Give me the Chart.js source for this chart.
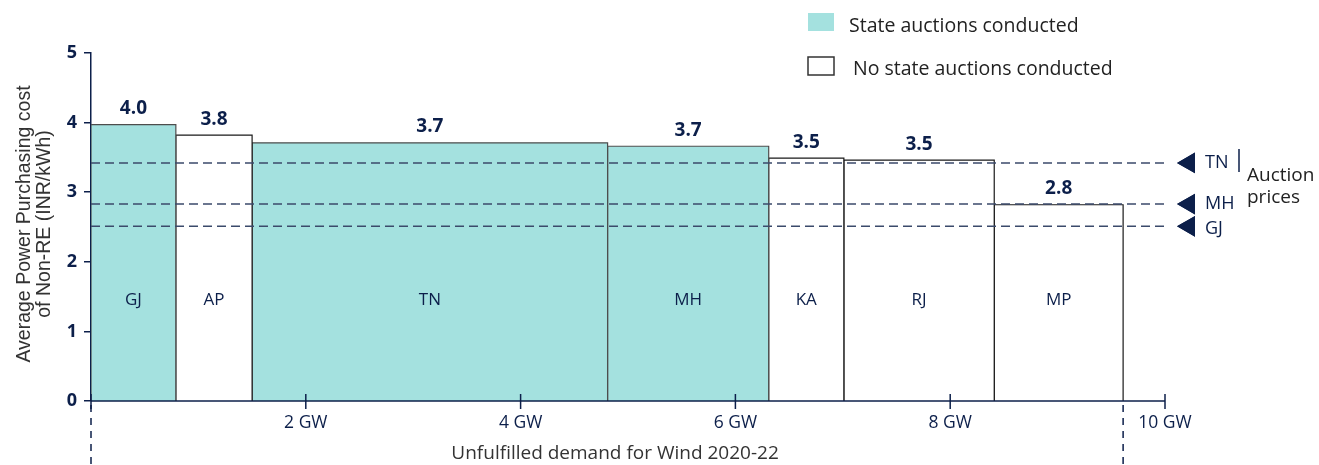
<!DOCTYPE html>
<html>
<head>
<meta charset="utf-8">
<script src="https://cdn.jsdelivr.net/npm/chart.js@4.4.0/dist/chart.umd.min.js"></script>
<style>
html, body { margin: 0; padding: 0; background: #fff; }
#wrap { position: relative; width: 1319px; height: 465px; }
</style>
</head>
<body>
<div id="wrap"><canvas id="windChart"></canvas></div>
<script>
var states = ["GJ", "AP", "TN", "MH", "KA", "RJ", "MP"];
var demandGW = [0.79, 0.71, 3.31, 1.50, 0.70, 1.40, 1.20]; // bar widths
var purchaseCost = [3.97, 3.82, 3.71, 3.66, 3.49, 3.46, 2.82]; // INR/kWh
var stateAuctions = [true, false, true, true, false, false, false];
var auctionStates = ["TN", "MH", "GJ"];
var auctionPrices = [3.42, 2.83, 2.51];
var xTickValues = [0, 2, 4, 6, 8, 10];

var navy = "#0c1f4a";
var teal = "#a4e1df";
var dashColor = "#3b4a6b";
var fontFamily = "'Open Sans', sans-serif";
var xMax = 10;

// one closed step shape per state, filled down to zero
var datasets = [];
var edges = [0];
var start = 0;
states.forEach(function (s, i) {
  var end = start + demandGW[i];
  datasets.push({
    type: "line",
    label: s,
    order: 2,
    data: [
      { x: start, y: 0 },
      { x: start, y: purchaseCost[i] },
      { x: end, y: purchaseCost[i] },
      { x: end, y: 0 }
    ],
    fill: "origin",
    backgroundColor: stateAuctions[i] ? teal : "#ffffff",
    borderColor: stateAuctions[i] ? "#4d4d4d" : "#1a1a1a",
    borderWidth: 1.2,
    pointRadius: 0,
    tension: 0
  });
  start = end;
  edges.push(end);
});
var totalGW = start;

// auction price reference lines
auctionPrices.forEach(function (p, i) {
  datasets.push({
    type: "line",
    label: auctionStates[i] + " auction",
    order: 0,
    clip: false,
    data: [{ x: 0, y: p }, { x: xMax + 0.03, y: p }],
    borderColor: dashColor,
    borderWidth: 1.6,
    borderDash: [9, 5],
    pointRadius: 0,
    fill: false
  });
});

var annotations = {
  id: "annotations",
  afterDatasetsDraw: function (chart) {
    var ctx = chart.ctx;
    var xs = chart.scales.x, ys = chart.scales.y;
    var area = chart.chartArea;
    var right = xs.getPixelForValue(xMax);
    ctx.save();

    // x axis line over the bars, with tick marks crossing it
    ctx.strokeStyle = navy;
    ctx.lineWidth = 1.5;
    ctx.beginPath();
    ctx.moveTo(area.left, area.bottom);
    ctx.lineTo(right, area.bottom);
    ctx.stroke();
    xTickValues.forEach(function (v) {
      var px = xs.getPixelForValue(v);
      ctx.beginPath();
      ctx.moveTo(px, area.bottom - 7);
      ctx.lineTo(px, area.bottom + 8);
      ctx.stroke();
    });

    // dashed range markers under the axis
    ctx.setLineDash([7, 6]);
    [0, totalGW].forEach(function (v) {
      var px = xs.getPixelForValue(v);
      ctx.beginPath();
      ctx.moveTo(px, area.bottom + 4);
      ctx.lineTo(px, chart.height);
      ctx.stroke();
    });
    ctx.setLineDash([]);

    // value labels and state names
    ctx.textAlign = "center";
    ctx.textBaseline = "middle";
    states.forEach(function (s, i) {
      var mid = xs.getPixelForValue((edges[i] + edges[i + 1]) / 2);
      ctx.fillStyle = navy;
      ctx.font = "bold 19px " + fontFamily;
      ctx.fillText(purchaseCost[i].toFixed(1), mid, ys.getPixelForValue(purchaseCost[i]) - 16);
      ctx.font = "17px " + fontFamily;
      ctx.fillText(s, mid, ys.getPixelForValue(1.45));
    });

    // auction price markers and labels
    ctx.textAlign = "left";
    ctx.font = "18px " + fontFamily;
    auctionStates.forEach(function (s, i) {
      var py = ys.getPixelForValue(auctionPrices[i]);
      Chart.helpers.drawPoint(ctx, {
        pointStyle: "triangle", rotation: -90, radius: 12, borderWidth: 0
      }, right + 24, py);
      ctx.fillStyle = navy;
      ctx.fill();
      ctx.fillText(s, right + 40, py + (s === "GJ" ? 3 : 0));
    });
    var tnY = ys.getPixelForValue(auctionPrices[0]);
    ctx.beginPath();
    ctx.moveTo(right + 74, tnY - 14);
    ctx.lineTo(right + 74, tnY + 9);
    ctx.stroke();
    ctx.fillStyle = "#222";
    ctx.font = "19px " + fontFamily;
    ctx.fillText("Auction", right + 82, tnY + 13);
    ctx.fillText("prices", right + 82, tnY + 35);

    // legend
    ctx.fillStyle = teal;
    ctx.fillRect(808, 13, 26, 18);
    ctx.fillStyle = "#fff";
    ctx.fillRect(808, 57, 26, 18);
    ctx.strokeStyle = "#333";
    ctx.lineWidth = 1.5;
    ctx.strokeRect(808, 57, 26, 18);
    ctx.fillStyle = "#222";
    ctx.font = "19.5px " + fontFamily;
    ctx.fillText("State auctions conducted", 849, 26);
    ctx.fillText("No state auctions conducted", 853, 69);

    // axis titles
    ctx.textAlign = "center";
    ctx.fillStyle = "#333";
    ctx.font = "19px " + fontFamily;
    ctx.fillText("Unfulfilled demand for Wind 2020-22", xs.getPixelForValue(totalGW / 2) + 8, 454);
    ctx.translate(25, (area.top + area.bottom) / 2 - 3);
    ctx.rotate(-Math.PI / 2);
    ctx.font = "19.5px 'Liberation Sans', Arial, sans-serif";
    ctx.fillText("Average Power Purchasing cost", 0, 0);
    ctx.fillText("of Non-RE (INR/kWh)", 0, 20);
    ctx.restore();
  }
};

new Chart("windChart", {
  type: "line",
  data: { datasets: datasets },
  options: {
    responsive: true,
    maintainAspectRatio: false,
    animation: false,
    events: [],
    layout: { padding: { top: 53, right: 154, left: 0, bottom: 0 } },
    plugins: { legend: { display: false }, tooltip: { enabled: false } },
    scales: {
      x: {
        type: "linear",
        min: 0,
        max: xMax,
        afterFit: function (s) { s.height = 64; },
        afterBuildTicks: function (s) {
          s.ticks = xTickValues.map(function (v) { return { value: v }; });
        },
        grid: { display: false },
        border: { display: false },
        ticks: {
          color: navy,
          font: { family: fontFamily, size: 17.5 },
          padding: 4,
          maxRotation: 0,
          callback: function (v) { return v === 0 ? "" : v + " GW"; }
        }
      },
      y: {
        min: 0,
        max: 5,
        afterFit: function (s) { s.width = 91; },
        grid: { drawOnChartArea: false, tickLength: 7, color: navy, lineWidth: 1.5 },
        border: { color: navy, width: 1.5 },
        ticks: {
          stepSize: 1,
          color: navy,
          padding: 7,
          font: { family: fontFamily, size: 18, weight: "bold" }
        }
      }
    }
  },
  plugins: [annotations]
});
</script>
</body>
</html>
